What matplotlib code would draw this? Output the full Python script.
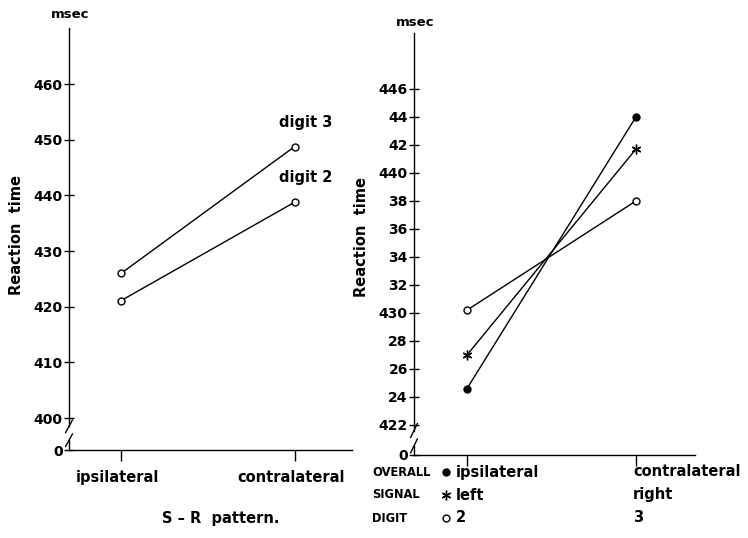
import matplotlib
matplotlib.use("Agg")
import matplotlib.pyplot as plt
import matplotlib.transforms as mtransforms

plt.rcParams['font.family'] = ['DejaVu Sans']
plt.rcParams['font.weight'] = 'bold'

# ---------------- data ----------------
conditions = [0, 1]
left_xlabels = ["ipsilateral", "contralateral"]
left_digit3 = [426.0, 448.8]
left_digit2 = [421.1, 438.8]
left_yticks = [394.25, 400, 410, 420, 430, 440, 450, 460]
left_yticklabels = ["0", "400", "410", "420", "430", "440", "450", "460"]

right_overall = [424.6, 444.0]
right_signal = [427.0, 441.7]
right_digit = [430.2, 438.0]
right_yticks = [419.85, 422, 424, 426, 428, 430, 432, 434, 436, 438, 440, 442, 444, 446]
right_yticklabels = ["0", "422", "24", "26", "28", "430", "32", "34", "36", "38",
                     "440", "42", "44", "446"]
row_names = ["OVERALL", "SIGNAL", "DIGIT"]
row_ipsi = ["ipsilateral", "left", "2"]
row_contra = ["contralateral", "right", "3"]

W, H = 748, 538
fig = plt.figure(figsize=(W / 100, H / 100), dpi=100)
FS = 10.5
TFS = 10
ASTER = (6, 2, 0)


def px_axes(x0, x1, ytop, ybot):
    return fig.add_axes([x0 / W, (H - ybot) / H, (x1 - x0) / W, (ybot - ytop) / H])


def style_axes(ax, yticks, ylabels, brk_lo, brk_hi, y0):
    for s in ['top', 'right', 'left']:
        ax.spines[s].set_visible(False)
    ax.spines['bottom'].set_linewidth(1.0)
    ax.spines['bottom'].set_position(('data', y0))
    blend = mtransforms.blended_transform_factory(ax.transAxes, ax.transData)
    top = ax.get_ylim()[1]
    ax.plot([0, 0], [brk_hi, top], color='black', lw=1.0, transform=blend, clip_on=False)
    ax.plot([0, 0], [y0, brk_lo], color='black', lw=1.0, transform=blend, clip_on=False)
    d = 0.012
    for yy in (brk_lo, brk_hi):
        dy = (brk_hi - brk_lo) * 0.45
        ax.plot([-d, d], [yy - dy, yy + dy], color='black', lw=1.0,
                transform=blend, clip_on=False)
    ax.set_yticks(yticks)
    ax.set_yticklabels(ylabels, fontsize=TFS, fontweight='bold')
    ax.tick_params(axis='y', direction='inout', length=7, width=1.0, pad=1)
    ax.tick_params(axis='x', direction='out', length=8, width=1.0)
    ax.set_facecolor('none')


# ---------------- left panel ----------------
axL = px_axes(69, 352, 28, 450)
axL.set_xlim(-0.30, 1.33)
axL.set_ylim(394.25, 470.1)
axL.plot(conditions, left_digit3, color='black', lw=1.0, marker='o', ms=5,
         mfc='white', mec='black', mew=1.0, clip_on=False)
axL.plot(conditions, left_digit2, color='black', lw=1.0, marker='o', ms=5,
         mfc='white', mec='black', mew=1.0, clip_on=False)
style_axes(axL, left_yticks, left_yticklabels, 396.0, 398.5, 394.25)
axL.set_xticks(conditions)
axL.set_xticklabels([])
lab_tr = mtransforms.offset_copy(axL.transData, fig=fig, x=0, y=-20, units='dots')
for x, lab in zip(conditions, left_xlabels):
    axL.text(x - 0.02, 394.25, lab, transform=lab_tr, ha='center', va='top',
             fontsize=FS, fontweight='bold')
axL.annotate("digit 3", (conditions[1], left_digit3[1]), xytext=(8, 12),
             textcoords='offset points', ha='center', va='bottom', fontsize=FS, fontweight='bold')
axL.annotate("digit 2", (conditions[1], left_digit2[1]), xytext=(8, 12),
             textcoords='offset points', ha='center', va='bottom', fontsize=FS, fontweight='bold')
fig.text(70 / W, 1 - 14 / H, "msec", ha='center', va='center', fontsize=9.5, fontweight='bold')
fig.text(17 / W, 1 - 235 / H, "Reaction  time", rotation=90, ha='center', va='center',
         fontsize=FS, fontweight='bold')
fig.text(221 / W, 1 - 518 / H, "S \u2013 R  pattern.", ha='center', va='center',
         fontsize=FS, fontweight='bold')

# ---------------- right panel ----------------
axR = px_axes(414, 695, 33, 455)
axR.set_xlim(-0.314, 1.35)
axR.set_ylim(419.85, 450.0)
axR.plot(conditions, right_overall, color='black', lw=1.0, marker='o', ms=5,
         mfc='black', mec='black', clip_on=False)
axR.plot(conditions, right_signal, color='black', lw=1.0, marker=ASTER, ms=7,
         mfc='black', mec='black', mew=1.0, clip_on=False)
axR.plot(conditions, right_digit, color='black', lw=1.0, marker='o', ms=5,
         mfc='white', mec='black', mew=1.0, clip_on=False)
style_axes(axR, right_yticks, right_yticklabels, 420.5, 421.6, 419.85)
axR.set_xticks(conditions)
axR.set_xticklabels([])
fig.text(415 / W, 1 - 22 / H, "msec", ha='center', va='center', fontsize=9.5, fontweight='bold')
fig.text(362 / W, 1 - 237 / H, "Reaction  time", rotation=90, ha='center', va='center',
         fontsize=FS, fontweight='bold')

row_y = [472, 495, 518]
for yy, name, ip, co in zip(row_y, row_names, row_ipsi, row_contra):
    fig.text(372 / W, 1 - yy / H, name, ha='left', va='center', fontsize=8.3, fontweight='bold')
    fig.text(456 / W, 1 - yy / H, ip, ha='left', va='center', fontsize=FS, fontweight='bold')
    fig.text(633 / W, 1 - yy / H, co, ha='left', va='center', fontsize=FS, fontweight='bold')

# legend markers
figtr = fig.transFigure
mk = [dict(marker='o', mfc='black', ms=5), dict(marker=ASTER, mfc='black', ms=7, mew=1.0),
      dict(marker='o', mfc='white', ms=5)]
for yy, m in zip(row_y, mk):
    fig.add_artist(plt.Line2D([446 / W], [1 - yy / H], color='black', mec='black',
                              linestyle='none', transform=figtr, **m))

fig.savefig("out.png", dpi=100)
